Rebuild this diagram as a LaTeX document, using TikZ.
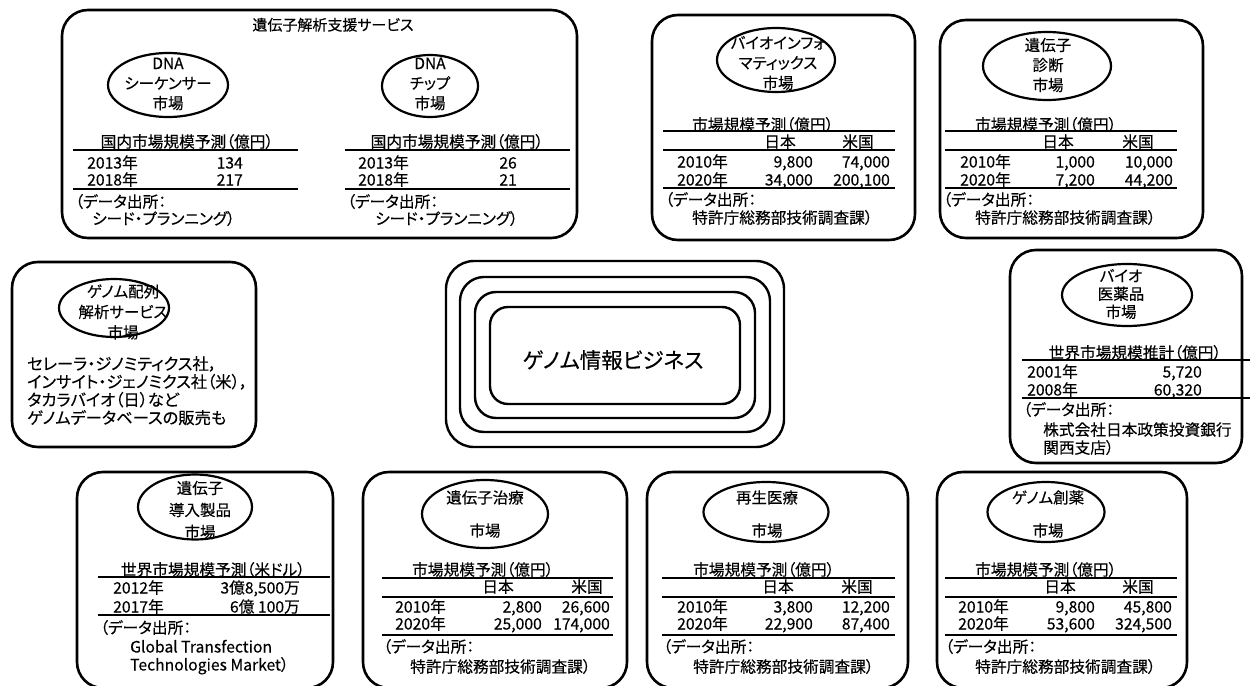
\documentclass[tikz,border=0pt]{standalone}
\usepackage{fontspec}
\setmainfont[RawFeature={+palt}, FakeBold=0.25]{Noto Sans CJK JP}
\usetikzlibrary{shapes.geometric}
\newcommand{\tf}{\fontsize{15.7}{18}\selectfont}
\newcommand{\ttlf}{\fontsize{15}{18}\selectfont}
\newcommand{\ovf}{\fontsize{15.5}{20}\selectfont}
\newcommand{\ovtwo}{\fontsize{15.5}{33}\selectfont}
\newcommand{\bodyf}{\fontsize{16.3}{18}\selectfont}
\newcommand{\bigjp}{\fontsize{21.5}{24}\selectfont}
\begin{document}
\begin{tikzpicture}[x=1pt,y=-1pt,
 panel/.style={draw, line width=2.6pt, rounded corners=26pt, inner sep=0pt},
 ring/.style={draw, line width=2.4pt, inner sep=0pt},
 oval/.style={draw, ellipse, line width=2.2pt, inner sep=0pt},
 rl/.style={line width=2pt},
 tl/.style={inner sep=0pt, anchor=base west, yshift=-5.5pt, font=\tf},
 tr/.style={inner sep=0pt, anchor=base east, yshift=-5.5pt, font=\tf},
 tcb/.style={inner sep=0pt, anchor=base, yshift=-5.5pt, font=\tf},
 olab/.style={inner sep=0pt, align=center, font=\ovf},
 olab2/.style={inner sep=0pt, align=center, font=\ovtwo},
 body/.style={inner sep=0pt, align=left, anchor=north west, font=\bodyf},
]
\useasboundingbox (0,0) rectangle (1252,685);
\fill[white] (0,0) rectangle (1252,685);

% ---------- Box 1 ----------
\node[panel, minimum width=515, minimum height=228] (p1) at (319.5,124) {};
\node[tcb, font=\ttlf] (p1t) at (333,25) {遺伝子解析支援サービス};
\node[oval, minimum width=120, minimum height=64] (e1a) at (168,85) {};
\node[olab] (e1al) at (168,84) {DNA\\シーケンサー\\市場};
\node[oval, minimum width=96, minimum height=62] (e1b) at (430,86) {};
\node[olab] (e1bl) at (430,84) {DNA\\チップ\\市場};
% table A
\node[tcb] (t1at) at (187,142) {国内市場規模予測（億円）};
\draw[rl] (73,150) -- (298,150);
\node[tl] (t1a1) at (87,163) {2013年};
\node[tr] (t1a1v) at (243,163) {134};
\node[tl] (t1a2) at (87,180) {2018年};
\node[tr] (t1a2v) at (243,180) {217};
\draw[rl] (73,189) -- (298,189);
\node[tl] (t1as1) at (75,202) {（データ出所：};
\node[tl] (t1as2) at (92,219) {シード・プランニング）};
% table B
\node[tcb] (t1bt) at (457,142) {国内市場規模予測（億円）};
\draw[rl] (345,150) -- (570,150);
\node[tl] (t1b1) at (358,163) {2013年};
\node[tr] (t1b1v) at (517,163) {26};
\node[tl] (t1b2) at (358,180) {2018年};
\node[tr] (t1b2v) at (517,180) {21};
\draw[rl] (345,189) -- (570,189);
\node[tl] (t1bs1) at (347,202) {（データ出所：};
\node[tl] (t1bs2) at (375,219) {シード・プランニング）};

% ---------- Box 2 ----------
\node[panel, minimum width=263, minimum height=225] (p2) at (783.5,127.5) {};
\node[oval, minimum width=118, minimum height=64] (e2) at (776,60) {};
\node[olab] (e2l) at (778,63) {バイオインフォ\\マティックス\\市場};
\node[tl] (t2t) at (692,125) {市場規模予測（億円）};
\draw[rl] (663,131) -- (895,131);
\node[tcb] (t2h1) at (780,142) {日本};
\node[tcb] (t2h2) at (858,142) {米国};
\draw[rl] (663,150) -- (895,150);
\node[tl] (t2r1) at (677,162) {2010年};
\node[tr] (t2r1a) at (813,162) {9,800};
\node[tr] (t2r1b) at (890,162) {74,000};
\node[tl] (t2r2) at (677,180) {2020年};
\node[tr] (t2r2a) at (813,180) {34,000};
\node[tr] (t2r2b) at (890,180) {200,100};
\draw[rl] (663,188) -- (895,188);
\node[tl] (t2s1) at (665,200) {（データ出所：};
\node[tl] (t2s2) at (692,218) {特許庁総務部技術調査課）};

% ---------- Box 3 ----------
\node[panel, minimum width=263, minimum height=218] (p3) at (1071.5,129) {};
\node[oval, minimum width=128, minimum height=68] (e3) at (1047,66) {};
\node[olab] (e3l) at (1048,65) {遺伝子\\診断\\市場};
\node[tl] (t3t) at (975,125) {市場規模予測（億円）};
\draw[rl] (945,131) -- (1177,131);
\node[tcb] (t3h1) at (1058,142) {日本};
\node[tcb] (t3h2) at (1138,142) {米国};
\draw[rl] (945,150) -- (1177,150);
\node[tl] (t3r1) at (960,162) {2010年};
\node[tr] (t3r1a) at (1095,162) {1,000};
\node[tr] (t3r1b) at (1173,162) {10,000};
\node[tl] (t3r2) at (960,180) {2020年};
\node[tr] (t3r2a) at (1095,180) {7,200};
\node[tr] (t3r2b) at (1173,180) {44,200};
\draw[rl] (945,188) -- (1177,188);
\node[tl] (t3s1) at (943,200) {（データ出所：};
\node[tl] (t3s2) at (975,218) {特許庁総務部技術調査課）};

% ---------- Box 4 ----------
\node[panel, minimum width=244, minimum height=185] (p4) at (134,354.5) {};
\node[oval, minimum width=110, minimum height=58] (e4) at (114,308) {};
\node[olab, font=\fontsize{15.5}{20.5}\selectfont] (e4l) at (123,312) {ゲノム配列\\解析サービス\\市場};
\node[body] (b4) at (27,356) {セレーラ・ジノミティクス社，\\インサイト・ジェノミクス社（米），\\タカラバイオ（日）など\\ゲノムデータベースの販売も};

% ---------- Centre ----------
\node[ring, rounded corners=28pt, minimum width=338, minimum height=186] (c1) at (615,354) {};
\node[ring, rounded corners=24pt, minimum width=310, minimum height=155] (c2) at (615,354.5) {};
\node[ring, rounded corners=21pt, minimum width=280, minimum height=126] (c3) at (615,355) {};
\node[ring, rounded corners=18pt, minimum width=250, minimum height=97] (c4) at (615,355.5) {};
\node[inner sep=0pt, font=\bigjp] (ct) at (613,360) {ゲノム情報ビジネス};

% ---------- Box 5 ----------
\node[panel, minimum width=232, minimum height=213] (p5) at (1126,356.5) {};
\node[oval, minimum width=130, minimum height=62] (e5) at (1127,295) {};
\node[olab, font=\fontsize{15.5}{18}\selectfont] (e5l) at (1121,294) {バイオ\\医薬品\\市場};
\node[tcb] (t5t) at (1135,353) {世界市場規模推計（億円）};
\draw[rl] (1022,360) -- (1250,360);
\node[tl] (t5r1) at (1027,372) {2001年};
\node[tr] (t5r1v) at (1202,372) {5,720};
\node[tl] (t5r2) at (1027,390) {2008年};
\node[tr] (t5r2v) at (1202,390) {60,320};
\draw[rl] (1022,398) -- (1250,398);
\node[tl] (t5s1) at (1023,410) {（データ出所：};
\node[tl] (t5s2) at (1043,430) {株式会社日本政策投資銀行};
\node[tl] (t5s3) at (1043,448) {関西支店）};

% ---------- Box 6 ----------
\node[panel, minimum width=256, minimum height=216] (p6) at (205,580) {};
\node[oval, minimum width=114, minimum height=65] (e6) at (195,507) {};
\node[olab, font=\fontsize{15.5}{22}\selectfont] (e6l) at (200,510) {遺伝子\\導入製品\\市場};
\node[tcb] (t6t) at (213,570) {世界市場規模予測（米ドル）};
\draw[rl] (98,577) -- (330,577);
\node[tl] (t6r1) at (113,588) {2012年};
\node[tr] (t6r1v) at (300,588) {3億8,500万};
\node[tl] (t6r2) at (113,607) {2017年};
\node[tr] (t6r2v) at (300,607) {6億 100万};
\draw[rl] (98,615) -- (330,615);
\node[tl] (t6s1) at (100,628) {（データ出所：};
\node[tl] (t6s2) at (130,647) {Global Transfection};
\node[tl] (t6s3) at (130,665) {Technologies Market）};

% ---------- Box 7 ----------
\node[panel, minimum width=264, minimum height=216] (p7) at (495,580) {};
\node[oval, minimum width=126, minimum height=68] (e7) at (485,514) {};
\node[olab2] (e7l) at (485,514) {遺伝子治療\\市場};
\node[tl] (t7t) at (412,570) {市場規模予測（億円）};
\draw[rl] (382,578) -- (613,578);
\node[tcb] (t7h1) at (498,587) {日本};
\node[tcb] (t7h2) at (587,587) {米国};
\draw[rl] (382,597) -- (613,597);
\node[tl] (t7r1) at (395,607) {2010年};
\node[tr] (t7r1a) at (542,607) {2,800};
\node[tr] (t7r1b) at (610,607) {26,600};
\node[tl] (t7r2) at (395,624) {2020年};
\node[tr] (t7r2a) at (542,624) {25,000};
\node[tr] (t7r2b) at (610,624) {174,000};
\draw[rl] (382,635) -- (613,635);
\node[tl] (t7s1) at (383,647) {（データ出所：};
\node[tl] (t7s2) at (410,667) {特許庁総務部技術調査課）};

% ---------- Box 8 ----------
\node[panel, minimum width=261, minimum height=216] (p8) at (777.5,580) {};
\node[oval, minimum width=125, minimum height=60] (e8) at (766,512) {};
\node[olab2] (e8l) at (767,514) {再生医療\\市場};
\node[tl] (t8t) at (693,570) {市場規模予測（億円）};
\draw[rl] (662,578) -- (895,578);
\node[tcb] (t8h1) at (778,587) {日本};
\node[tcb] (t8h2) at (857,587) {米国};
\draw[rl] (662,597) -- (895,597);
\node[tl] (t8r1) at (677,607) {2010年};
\node[tr] (t8r1a) at (813,607) {3,800};
\node[tr] (t8r1b) at (890,607) {12,200};
\node[tl] (t8r2) at (677,624) {2020年};
\node[tr] (t8r2a) at (813,624) {22,900};
\node[tr] (t8r2b) at (890,624) {87,400};
\draw[rl] (662,635) -- (895,635);
\node[tl] (t8s1) at (663,647) {（データ出所：};
\node[tl] (t8s2) at (693,667) {特許庁総務部技術調査課）};

% ---------- Box 9 ----------
\node[panel, minimum width=250, minimum height=216] (p9) at (1062,580) {};
\node[oval, minimum width=117, minimum height=60] (e9) at (1046,512) {};
\node[olab2] (e9l) at (1048,514) {ゲノム創薬\\市場};
\node[tl] (t9t) at (975,570) {市場規模予測（億円）};
\draw[rl] (945,578) -- (1177,578);
\node[tcb] (t9h1) at (1060,587) {日本};
\node[tcb] (t9h2) at (1138,587) {米国};
\draw[rl] (945,597) -- (1177,597);
\node[tl] (t9r1) at (958,607) {2010年};
\node[tr] (t9r1a) at (1095,607) {9,800};
\node[tr] (t9r1b) at (1172,607) {45,800};
\node[tl] (t9r2) at (958,624) {2020年};
\node[tr] (t9r2a) at (1095,624) {53,600};
\node[tr] (t9r2b) at (1172,624) {324,500};
\draw[rl] (945,635) -- (1177,635);
\node[tl] (t9s1) at (945,647) {（データ出所：};
\node[tl] (t9s2) at (975,667) {特許庁総務部技術調査課）};
\end{tikzpicture}
\end{document}
